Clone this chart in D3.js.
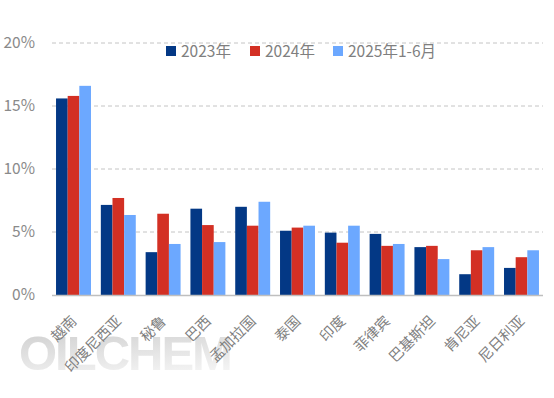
<!DOCTYPE html>
<html>
<head>
<meta charset="utf-8">
<script src="https://cdn.jsdelivr.net/npm/d3@7"></script>
<style>
    body { margin: 0; background: #fff; }
    text { font-family: "Noto Sans CJK SC", "Noto Sans", sans-serif; fill: #808080; }
</style>
</head>
<body>
<div id="chart"></div>
<script>
// data (share, %)
var countries = ["越南", "印度尼西亚", "秘鲁", "巴西", "孟加拉国", "泰国", "印度", "菲律宾", "巴基斯坦", "肯尼亚", "尼日利亚"];
var seriesNames = ["2023年", "2024年", "2025年1-6月"];
var v2023 = [15.6, 7.15, 3.4, 6.85, 7.0, 5.1, 4.95, 4.85, 3.8, 1.65, 2.15];
var v2024 = [15.8, 7.7, 6.45, 5.55, 5.5, 5.35, 4.15, 3.9, 3.9, 3.55, 3.0];
var v2025 = [16.6, 6.35, 4.05, 4.2, 7.4, 5.5, 5.5, 4.05, 2.85, 3.8, 3.55];
var yTicks = [0, 5, 10, 15, 20];
var colors = ["#033885", "#d33024", "#6ca8ff"];

drawChart();

function drawChart() {
    var W = 554, H = 398;
    var margin = { top: 43, right: 11, bottom: 103, left: 52 };
    var width = W - margin.left - margin.right,
        height = H - margin.top - margin.bottom;

    var svg = d3.select("#chart")
        .append("svg")
        .attr("width", W)
        .attr("height", H);

    // watermark
    var defs = svg.append("defs");
    var grad = defs.append("linearGradient")
        .attr("id", "wm")
        .attr("x1", 0).attr("y1", 0).attr("x2", 0.3).attr("y2", 1);
    grad.append("stop").attr("offset", "0%").attr("stop-color", "#cdcdcd");
    grad.append("stop").attr("offset", "100%").attr("stop-color", "#f3f3f3");
    svg.append("text")
        .attr("x", 19)
        .attr("y", 370)
        .style("font-family", "Liberation Sans, Arial, sans-serif")
        .style("font-weight", "bold")
        .style("font-size", "49px")
        .style("letter-spacing", "-2px")
        .style("fill", "url(#wm)")
        .text("OILCHEM");

    var g = svg.append("g")
        .attr("transform", "translate(" + margin.left + "," + margin.top + ")");

    var y = d3.scaleLinear()
        .domain([0, 20])
        .range([height, 0]);

    var x0 = d3.scaleBand()
        .domain(countries)
        .range([0, width])
        .paddingInner(0.22)
        .paddingOuter(0.09);

    var x1 = d3.scaleBand()
        .domain(seriesNames)
        .range([0, x0.bandwidth()]);

    // grid lines
    g.selectAll(".grid")
        .data(yTicks.filter(function (d) { return d > 0; }))
        .enter()
        .append("line")
        .attr("x1", 0)
        .attr("x2", width)
        .attr("y1", function (d) { return y(d); })
        .attr("y2", function (d) { return y(d); })
        .attr("stroke", "#c4c4c4")
        .attr("stroke-width", 1)
        .attr("stroke-dasharray", "4,3");

    // y axis labels
    var yAxis = g.append("g")
        .call(d3.axisLeft(y).tickValues(yTicks).tickSize(0).tickPadding(17)
            .tickFormat(function (d) { return d + "%"; }));
    yAxis.select(".domain").remove();
    yAxis.selectAll("text")
        .style("font-size", "15.5px")
        .style("fill", "#8a8a8a");

    // bars
    var data = countries.map(function (c, i) {
        return { country: c, vals: [v2023[i], v2024[i], v2025[i]] };
    });

    var groups = g.selectAll(".grp")
        .data(data)
        .enter()
        .append("g")
        .attr("transform", function (d) { return "translate(" + x0(d.country) + ",0)"; });

    groups.selectAll("rect")
        .data(function (d) {
            return d.vals.map(function (v, k) { return { key: seriesNames[k], value: v, k: k }; });
        })
        .enter()
        .append("rect")
        .attr("x", function (d) { return x1(d.key); })
        .attr("y", function (d) { return y(d.value); })
        .attr("width", x1.bandwidth())
        .attr("height", function (d) { return height - y(d.value); })
        .attr("fill", function (d) { return colors[d.k]; });

    // baseline
    g.append("line")
        .attr("x1", 0)
        .attr("x2", width)
        .attr("y1", height + 0.5)
        .attr("y2", height + 0.5)
        .attr("stroke", "#bfbfbf")
        .attr("stroke-width", 1.5);

    // x labels
    g.selectAll(".xlab")
        .data(countries)
        .enter()
        .append("text")
        .attr("text-anchor", "end")
        .attr("transform", function (d) {
            return "translate(" + (x0(d) + x0.bandwidth() / 2 + 4) + "," + (height + 27) + ")rotate(-45)";
        })
        .style("font-size", "14.5px")
        .style("fill", "#7f7f7f")
        .text(function (d) { return d; });

    // legend
    var legendX = [166, 250, 333];
    var legend = svg.selectAll(".leg")
        .data(seriesNames)
        .enter()
        .append("g")
        .attr("transform", function (d, i) { return "translate(" + legendX[i] + ",46)"; });
    legend.append("rect")
        .attr("width", 10)
        .attr("height", 10)
        .attr("fill", function (d, i) { return colors[i]; });
    legend.append("text")
        .attr("x", 15)
        .attr("y", 10.5)
        .style("font-size", "15.5px")
        .style("fill", "#7f7f7f")
        .text(function (d) { return d; });
}
</script>
</body>
</html>
